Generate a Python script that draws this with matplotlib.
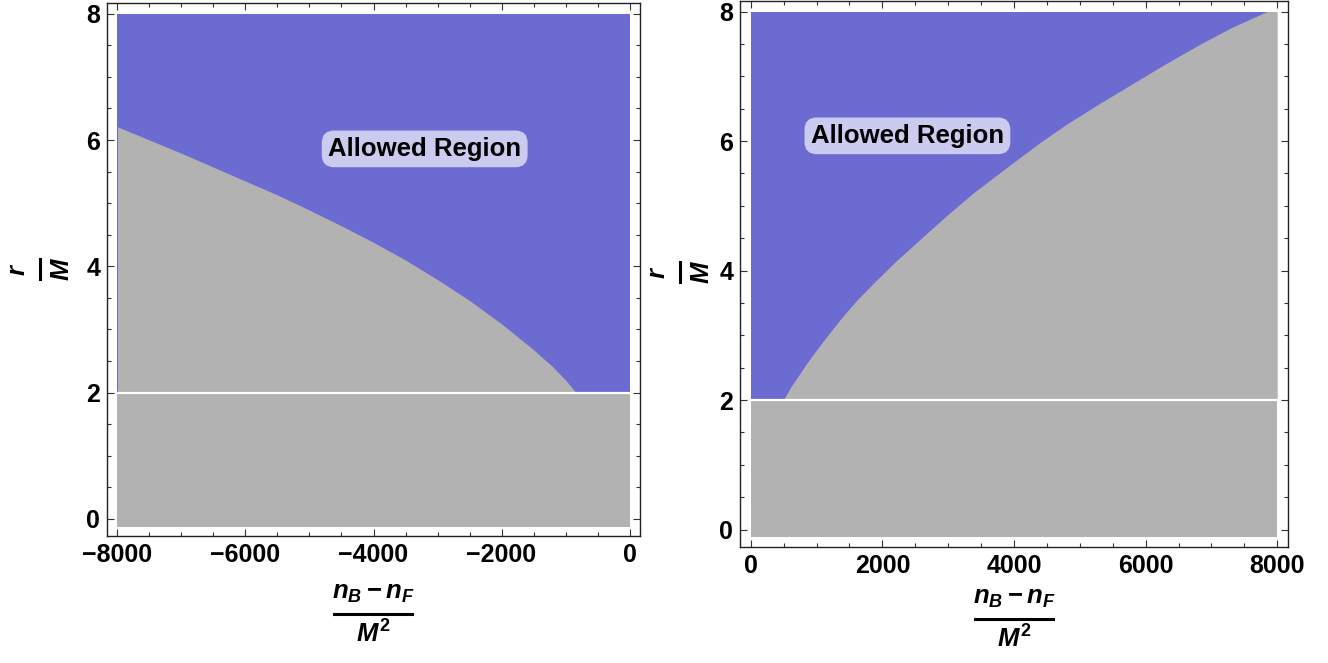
import matplotlib
matplotlib.use("Agg")
import matplotlib.pyplot as plt
from matplotlib.lines import Line2D
import numpy as np

plt.rcParams['font.family'] = ['Liberation Sans', 'DejaVu Sans']
plt.rcParams['font.weight'] = 'bold'
plt.rcParams['mathtext.fontset'] = 'custom'
plt.rcParams['mathtext.rm'] = 'Liberation Sans:bold'
plt.rcParams['mathtext.it'] = 'Liberation Sans:bold:italic'
plt.rcParams['mathtext.bf'] = 'Liberation Sans:bold'

# ---- data ----
# left panel: boundary of the excluded (grey) region, n = (n_B - n_F)/M^2, r/M
left_n = [-8000, -7500, -7000, -6500, -6000, -5500, -5000, -4500, -4000,
          -3500, -3000, -2500, -2000, -1500, -1200, -1000, -833]
left_r = [6.21, 6.00, 5.79, 5.57, 5.35, 5.13, 4.89, 4.64, 4.38,
          4.10, 3.79, 3.46, 3.09, 2.68, 2.41, 2.20, 2.00]
# right panel boundary
right_n = [495, 600, 700, 859, 1100, 1364, 1600, 1869, 2200, 2626, 3000,
           3384, 3939, 4400, 4798, 5300, 5808, 6300, 6818, 7300, 7844, 8000]
right_r = [2.00, 2.19, 2.34, 2.58, 2.91, 3.25, 3.53, 3.81, 4.14, 4.53, 4.87,
           5.20, 5.63, 5.98, 6.26, 6.58, 6.89, 7.19, 7.49, 7.75, 8.00, 8.00]

left_range = [-8000, 0]
right_range = [0, 8000]
r_min, r_max, r_horizon = -0.12, 8.0, 2.0
label_text = "Allowed Region"
left_label_pos = (-3200, 5.86)
right_label_pos = (2380, 6.08)

BLUE = '#6b6bd2'
GREY = '#b2b2b2'
BOXC = '#cbcbef'

W, H = 1328, 663
fig = plt.figure(figsize=(W / 100, H / 100), dpi=100)

def make_axes(px_left, px_right, px_top, px_bottom):
    return fig.add_axes([px_left / W, 1 - px_bottom / H,
                         (px_right - px_left) / W, (px_bottom - px_top) / H])

axL = make_axes(107, 640, 3, 536)
axR = make_axes(740, 1288, 0.5, 547)

def style(ax, xr):
    pad_x = 0.0205 * (xr[1] - xr[0])
    ax.set_xlim(xr[0] - pad_x, xr[1] + pad_x)
    ax.set_ylim(-0.27, 8.17)
    ax.set_xticks(np.arange(xr[0], xr[1] + 1, 2000))
    ax.set_xticks(np.arange(xr[0], xr[1] + 1, 500), minor=True)
    ax.set_yticks(np.arange(0, 9, 2))
    ax.set_yticks(np.arange(0, 8.01, 0.5), minor=True)
    ax.tick_params(which='both', direction='in', top=True, right=True,
                   labelsize=18, width=0.8, color='#333333', pad=5)
    ax.tick_params(which='major', length=5)
    ax.tick_params(which='minor', length=3)
    for lab in ax.get_xticklabels() + ax.get_yticklabels():
        lab.set_fontweight('bold')
    for sp in ax.spines.values():
        sp.set_linewidth(1.0)
        sp.set_color('#222222')

def draw(ax, xr, bn, br):
    xs = np.array(xr, dtype=float)
    ax.fill_between(xs, r_horizon, r_max, color=BLUE, lw=0)
    ax.fill_between(xs, r_min, r_horizon, color=GREY, lw=0)
    ax.fill_between(bn, r_horizon, br, color=GREY, lw=0)
    ax.plot(xs, [r_horizon, r_horizon], color='white', lw=1.6)

style(axL, left_range)
style(axR, right_range)
draw(axL, left_range, left_n, left_r)
draw(axR, right_range, right_n, right_r)

for ax, pos in [(axL, left_label_pos), (axR, right_label_pos)]:
    ax.text(pos[0], pos[1], label_text, ha='center', va='center',
            fontsize=18.5, fontweight='bold', color='black',
            bbox=dict(boxstyle='round,pad=0.22,rounding_size=0.45',
                      fc=BOXC, ec=BOXC, lw=1))

def px(x, y):
    return (x / W, 1 - y / H)

FS = 18.5

def xfrac(cx, bar_y):
    fig.text(*px(cx, bar_y - 21), r'$n_B - n_F$', ha='center', va='center', fontsize=FS)
    fig.text(*px(cx, bar_y + 20), r'$M^2$', ha='center', va='center', fontsize=FS)
    fig.add_artist(Line2D([(cx - 39) / W, (cx + 39) / W], [1 - bar_y / H] * 2,
                          color='black', lw=2.2, transform=fig.transFigure))

def yfrac(bar_x, cy):
    fig.text(*px(bar_x - 22, cy), r'$r$', ha='center', va='center', fontsize=FS, rotation=90)
    fig.text(*px(bar_x + 22, cy), r'$M$', ha='center', va='center', fontsize=FS, rotation=90)
    fig.add_artist(Line2D([bar_x / W] * 2, [1 - (cy - 10) / H, 1 - (cy + 10) / H],
                          color='black', lw=2.2, transform=fig.transFigure))

xfrac(373, 614)
xfrac(1014, 619)
yfrac(40, 269)
yfrac(680, 272)

fig.savefig('out.png', dpi=100)
